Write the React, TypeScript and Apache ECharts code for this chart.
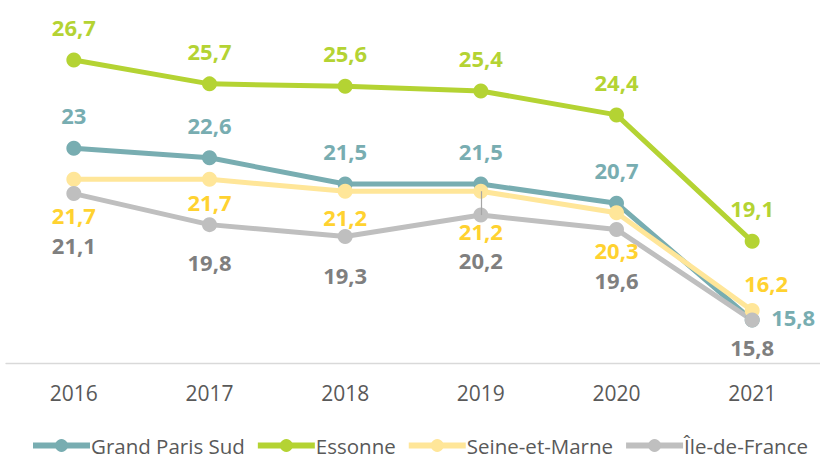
import React, { useEffect, useRef } from "react";
import * as echarts from "echarts";

const categories = ["2016", "2017", "2018", "2019", "2020", "2021"];
const seriesNames = ["Grand Paris Sud", "Essonne", "Seine-et-Marne", "Île-de-France"];
const grandParisSud = [23, 22.6, 21.5, 21.5, 20.7, 15.8];
const essonne = [26.7, 25.7, 25.6, 25.4, 24.4, 19.1];
const seineEtMarne = [21.7, 21.7, 21.2, 21.2, 20.3, 16.2];
const ileDeFrance = [21.1, 19.8, 19.3, 20.2, 19.6, 15.8];

// label offsets (styling only), relative to each point's centre
const gpsLabelOffsets = [[0, -33], [0, -33], [0, -33], [0, -33], [0, -33], [41, -3]];
const essLabelOffsets = [[0, -33], [0, -33], [0, -33], [0, -33], [0, -33], [0, -33]];
const semLabelOffsets = [[0, 36], [0, 23], [0, 26], [0, 40], [0, 37], [14, -28]];
const idfLabelOffsets = [[0, 51], [0, 37], [0, 38], [0, 45], [0, 51], [0, 27]];

const FONT = "'Open Sans', 'DejaVu Sans', sans-serif";

function makeSeries(name: string, values: number[], offsets: number[][], lineColor: string, labelColor: string, extra: any = {}) {
  return {
    name,
    type: "line",
    data: values.map((v, i) => ({ value: v, label: { offset: offsets[i] } })),
    symbol: "circle",
    symbolSize: 15,
    showSymbol: true,
    lineStyle: { color: lineColor, width: 5 },
    itemStyle: { color: lineColor },
    label: {
      show: true,
      position: "inside",
      color: labelColor,
      fontFamily: FONT,
      fontWeight: "bold",
      fontSize: 22,
      lineHeight: 19,
      formatter: (p: any) => String(p.value).replace(".", ","),
    },
    emphasis: { disabled: true },
    ...extra,
  };
}

export default function App() {
  const ref = useRef<HTMLDivElement>(null);
  useEffect(() => {
    if (!ref.current) return;
    const chart = echarts.init(ref.current, undefined, { renderer: "svg" });
    chart.setOption({
      animation: false,
      backgroundColor: "#ffffff",
      grid: { left: 6, width: 817, top: 29, bottom: 95, containLabel: false },
      xAxis: {
        type: "category",
        data: categories,
        boundaryGap: true,
        axisLine: { show: true, lineStyle: { color: "#D9D9D9", width: 1.3 } },
        axisTick: { show: false },
        axisLabel: { color: "#595959", fontFamily: FONT, fontSize: 21, margin: 19 },
      },
      yAxis: {
        type: "value",
        min: 14,
        max: 28,
        interval: 2,
        show: false,
        splitLine: { show: false },
      },
      legend: {
        data: seriesNames,
        bottom: -3,
        left: 25,
        itemWidth: 57,
        itemHeight: 16,
        itemGap: 10,
        lineStyle: { width: 6 },
        textStyle: { color: "#595959", fontFamily: FONT, fontSize: 20.5, padding: [0, 0, 0, -4] },
      },
      series: [
        makeSeries(seriesNames[0], grandParisSud, gpsLabelOffsets, "#78ADB1", "#78ADB1"),
        makeSeries(seriesNames[1], essonne, essLabelOffsets, "#B4D333", "#B4D333"),
        makeSeries(seriesNames[2], seineEtMarne, semLabelOffsets, "#FFE699", "#FFD230", {
          markLine: {
            silent: true,
            symbol: "none",
            label: { show: false },
            lineStyle: { color: "#A6A6A6", width: 1.2, type: "solid" },
            data: [[
              { xAxis: categories[3], yAxis: seineEtMarne[3] },
              { xAxis: categories[3], yAxis: ileDeFrance[3] },
            ]],
          },
        }),
        makeSeries(seriesNames[3], ileDeFrance, idfLabelOffsets, "#BFBFBF", "#7F7F7F"),
      ],
    });
    return () => chart.dispose();
  }, []);
  return <div ref={ref} style={{ width: 820, height: 458, position: "absolute", left: 0, top: 0 }} />;
}
